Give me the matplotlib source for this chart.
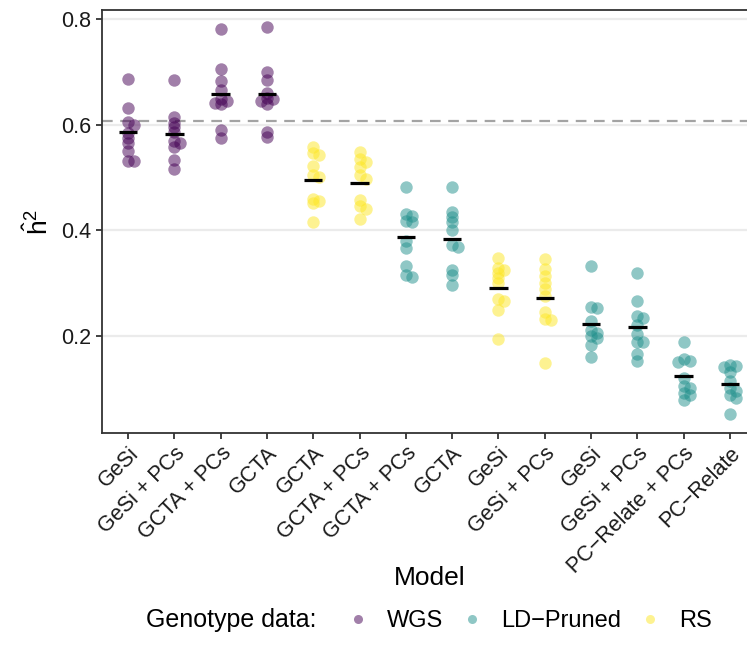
import numpy as np
import matplotlib
matplotlib.use("Agg")
import matplotlib.pyplot as plt
from matplotlib.lines import Line2D

plt.rcParams["font.family"] = ["Liberation Sans", "DejaVu Sans"]
plt.rcParams["mathtext.fontset"] = "custom"
plt.rcParams["mathtext.rm"] = "Liberation Sans"
plt.rcParams["mathtext.it"] = "Liberation Sans:italic"

MINUS = "\u2212"

# Model labels along the x axis, and the genotype data behind each one
models = ["GeSi", "GeSi + PCs", "GCTA + PCs", "GCTA",
          "GCTA", "GCTA + PCs", "GCTA + PCs", "GCTA",
          "GeSi", "GeSi + PCs", "GeSi", "GeSi + PCs",
          f"PC{MINUS}Relate + PCs", f"PC{MINUS}Relate"]
genotype = ["WGS", "WGS", "WGS", "WGS",
            "RS", "RS", f"LD{MINUS}Pruned", f"LD{MINUS}Pruned",
            "RS", "RS", f"LD{MINUS}Pruned", f"LD{MINUS}Pruned",
            f"LD{MINUS}Pruned", f"LD{MINUS}Pruned"]

# Heritability estimates per replicate
wgs_gesi = [0.686, 0.632, 0.606, 0.599, 0.585, 0.575, 0.566, 0.550, 0.531, 0.531]
wgs_gesi_pcs = [0.684, 0.615, 0.604, 0.595, 0.586, 0.570, 0.565, 0.558, 0.533, 0.516]
wgs_gcta_pcs = [0.781, 0.706, 0.682, 0.665, 0.648, 0.645, 0.642, 0.640, 0.590, 0.575]
wgs_gcta = [0.785, 0.700, 0.684, 0.660, 0.650, 0.648, 0.645, 0.639, 0.587, 0.577]
rs_gcta = [0.558, 0.546, 0.542, 0.522, 0.505, 0.500, 0.460, 0.455, 0.452, 0.415]
rs_gcta_pcs = [0.548, 0.535, 0.530, 0.520, 0.505, 0.498, 0.458, 0.446, 0.440, 0.421]
ld_gcta_pcs = [0.481, 0.430, 0.426, 0.418, 0.415, 0.380, 0.366, 0.332, 0.316, 0.312]
ld_gcta = [0.481, 0.435, 0.425, 0.415, 0.400, 0.372, 0.368, 0.325, 0.316, 0.296]
rs_gesi = [0.347, 0.328, 0.325, 0.318, 0.310, 0.300, 0.270, 0.266, 0.248, 0.193]
rs_gesi_pcs = [0.346, 0.326, 0.314, 0.300, 0.288, 0.276, 0.245, 0.232, 0.230, 0.149]
ld_gesi = [0.332, 0.255, 0.253, 0.228, 0.210, 0.205, 0.200, 0.195, 0.182, 0.159]
ld_gesi_pcs = [0.318, 0.265, 0.238, 0.234, 0.220, 0.203, 0.188, 0.188, 0.165, 0.153]
ld_pcrelate_pcs = [0.188, 0.155, 0.152, 0.150, 0.120, 0.105, 0.100, 0.092, 0.088, 0.078]
ld_pcrelate = [0.145, 0.143, 0.140, 0.132, 0.115, 0.100, 0.095, 0.088, 0.082, 0.052]

estimates = [wgs_gesi, wgs_gesi_pcs, wgs_gcta_pcs, wgs_gcta,
             rs_gcta, rs_gcta_pcs, ld_gcta_pcs, ld_gcta,
             rs_gesi, rs_gesi_pcs, ld_gesi, ld_gesi_pcs,
             ld_pcrelate_pcs, ld_pcrelate]

true_h2 = 0.607
legend_order = ["WGS", f"LD{MINUS}Pruned", "RS"]
palette = {"WGS": "#440154", f"LD{MINUS}Pruned": "#21908C", "RS": "#FDE725"}


def swarm_offsets(values, tol=0.0075, step=0.13):
    """Nudge near-coincident points sideways so they stay visible."""
    placed = []
    offs = []
    for v in values:
        for cand in (0.0, step, -step, 2 * step):
            if all(abs(v - pv) >= tol for pv, po in placed if po == cand):
                break
        placed.append((v, cand))
        offs.append(cand)
    return np.array(offs)


fig = plt.figure(figsize=(7.47, 6.62), dpi=100)
W, H = 747, 662
ax = fig.add_axes([102 / W, 1 - 433 / H, (756 - 102) / W, (433 - 10) / H])

for i, (vals, g) in enumerate(zip(estimates, genotype)):
    vals = np.asarray(vals)
    x = i + swarm_offsets(vals)
    ax.scatter(x, vals, s=80, color=palette[g], alpha=0.5, linewidths=0, zorder=3)
    ax.hlines(vals.mean(), i - 0.2, i + 0.2, color="black", lw=2.3, zorder=4)

ax.axhline(true_h2, color="#a3a3a3", lw=1.6, linestyle=(0, (4.8, 3.4)), zorder=2)

ax.set_xlim(-0.56, len(models) - 1 + 0.56)
ax.set_ylim(0.0156, 0.8174)
ax.set_yticks([0.2, 0.4, 0.6, 0.8])
ax.set_yticklabels(["0.2", "0.4", "0.6", "0.8"])
ax.set_xticks(range(len(models)))
ax.set_xticklabels(models, rotation=45, ha="right", va="top", rotation_mode="anchor")
ax.tick_params(axis="both", labelsize=15.5, colors="#333333", length=4, width=1.3,
               labelcolor="#1a1a1a")
ax.tick_params(axis="x", pad=3)
ax.yaxis.grid(True, color="#ebebeb", lw=1.6, zorder=0)
ax.xaxis.grid(False)
ax.set_axisbelow(True)
for sp in ax.spines.values():
    sp.set_color("#333333")
    sp.set_linewidth(1.3)

ax.set_ylabel(r"$\hat{\mathrm{h}}^2$", fontsize=19, color="black", labelpad=6)
fig.text(430 / W, 1 - 578 / H, "Model", fontsize=19, ha="center", va="center")

# Legend: title on the left, keys in one row
fig.text(146 / W, 1 - 620 / H, "Genotype data:", fontsize=18, ha="left", va="center")
handles = [Line2D([], [], marker="o", linestyle="none", markersize=6.5,
                  markerfacecolor=palette[g], markeredgewidth=0, alpha=0.5)
           for g in legend_order]
fig.legend(handles, legend_order, loc="center left", bbox_to_anchor=(346 / W, 1 - 621 / H),
           ncol=3, frameon=False, fontsize=17, handlelength=1.0, handletextpad=0.75,
           columnspacing=0.7, borderaxespad=0, borderpad=0)

fig.savefig("out.png", dpi=100)
